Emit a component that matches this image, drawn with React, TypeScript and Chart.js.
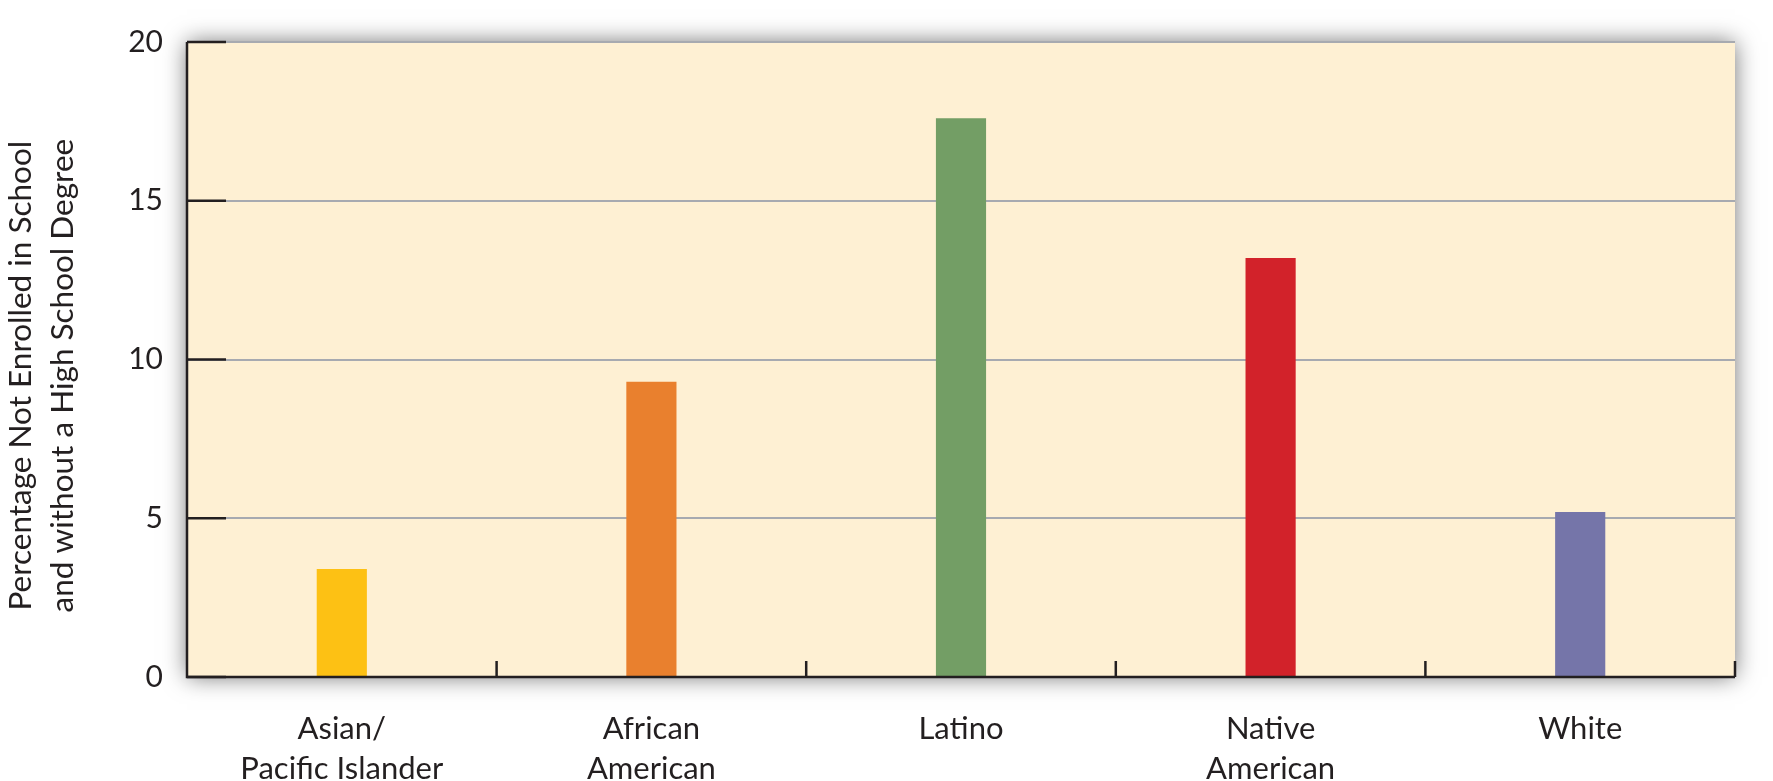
import React, { useEffect, useRef } from "react";
import { Chart, registerables } from "chart.js";

Chart.register(...registerables);

const categories: string[][] = [
  ["Asian/", "Pacific Islander"],
  ["African", "American"],
  ["Latino"],
  ["Native", "American"],
  ["White"],
];
const values: number[] = [3.4, 9.3, 17.6, 13.2, 5.2];
const barColors: string[] = ["#FDC114", "#E9802E", "#739E65", "#D2222A", "#7575A9"];
const yTicks: number[] = [0, 5, 10, 15, 20];
const yTitle: string[] = ["Percentage Not Enrolled in School    ", "and without a High School Degree    "];

const FONT = "Lato, 'Open Sans', sans-serif";
const AXIS = "#231f20";

const framePlugin = {
  id: "frame",
  beforeDraw(chart: any) {
    const { ctx, chartArea: a } = chart;
    ctx.save();
    ctx.shadowColor = "rgba(0,0,0,0.55)";
    ctx.shadowBlur = 22;
    ctx.fillStyle = "#FEF0D3";
    ctx.fillRect(a.left, a.top, a.right - a.left, a.bottom - a.top);
    ctx.restore();
  },
  afterDatasetsDraw(chart: any) {
    const { ctx, chartArea: a, scales } = chart;
    const x = scales.x;
    const y = scales.y;
    ctx.save();
    ctx.strokeStyle = AXIS;
    ctx.lineWidth = 2.5;
    ctx.lineCap = "butt";
    ctx.beginPath();
    ctx.moveTo(a.left, a.top);
    ctx.lineTo(a.left, a.bottom);
    ctx.lineTo(a.right, a.bottom);
    ctx.stroke();
    yTicks.forEach((v) => {
      const py = y.getPixelForValue(v);
      ctx.beginPath();
      ctx.moveTo(a.left, py);
      ctx.lineTo(a.left + 39, py);
      ctx.stroke();
    });
    for (let i = 0; i < categories.length; i++) {
      const p0 = x.getPixelForValue(i);
      const p1 = i < categories.length - 1 ? x.getPixelForValue(i + 1) : p0 + (p0 - x.getPixelForValue(i - 1));
      const bx = (p0 + p1) / 2;
      ctx.beginPath();
      ctx.moveTo(bx, a.bottom);
      ctx.lineTo(bx, a.bottom - 16);
      ctx.stroke();
    }
    ctx.restore();
  },
};

export default function App() {
  const ref = useRef<HTMLCanvasElement | null>(null);
  useEffect(() => {
    if (!ref.current) return;
    const chart = new Chart(ref.current, {
      type: "bar",
      data: {
        labels: categories as any,
        datasets: [
          {
            data: values,
            backgroundColor: barColors,
            borderWidth: 0,
            barPercentage: 0.162,
            categoryPercentage: 1,
          },
        ],
      },
      options: {
        animation: false,
        responsive: false,
        devicePixelRatio: 1,
        layout: { padding: { left: 0, right: 38, top: 32, bottom: 0 } },
        plugins: { legend: { display: false }, tooltip: { enabled: false } },
        scales: {
          x: {
            offset: true,
            grid: { display: false },
            border: { display: false },
            ticks: {
              color: "#231f20",
              font: { family: FONT, size: 31, lineHeight: 1.28 },
              padding: 24,
              maxRotation: 0,
              autoSkip: false,
            },
            afterFit: (s: any) => {
              s.height = 104;
            },
          },
          y: {
            min: 0,
            max: 20,
            afterBuildTicks: (s: any) => {
              s.ticks = yTicks.map((v) => ({ value: v }));
            },
            grid: { color: "#A7AAB0", lineWidth: 2, drawTicks: false },
            border: { display: false },
            ticks: {
              color: "#231f20",
              font: { family: FONT, size: 30 },
              padding: 24,
            },
            title: {
              display: true,
              text: yTitle,
              color: "#231f20",
              font: { family: FONT, size: 31.5, lineHeight: 1.33 },
              padding: { top: 0, bottom: 0 },
            },
            afterFit: (s: any) => {
              s.width = 187;
            },
          },
        },
      },
      plugins: [framePlugin],
    });
    return () => chart.destroy();
  }, []);
  return (
    <div style={{ position: "fixed", left: 0, top: 0, width: 1773, height: 781, background: "#fff" }}>
      <canvas ref={ref} width={1773} height={781} style={{ width: 1773, height: 781 }} />
    </div>
  );
}
